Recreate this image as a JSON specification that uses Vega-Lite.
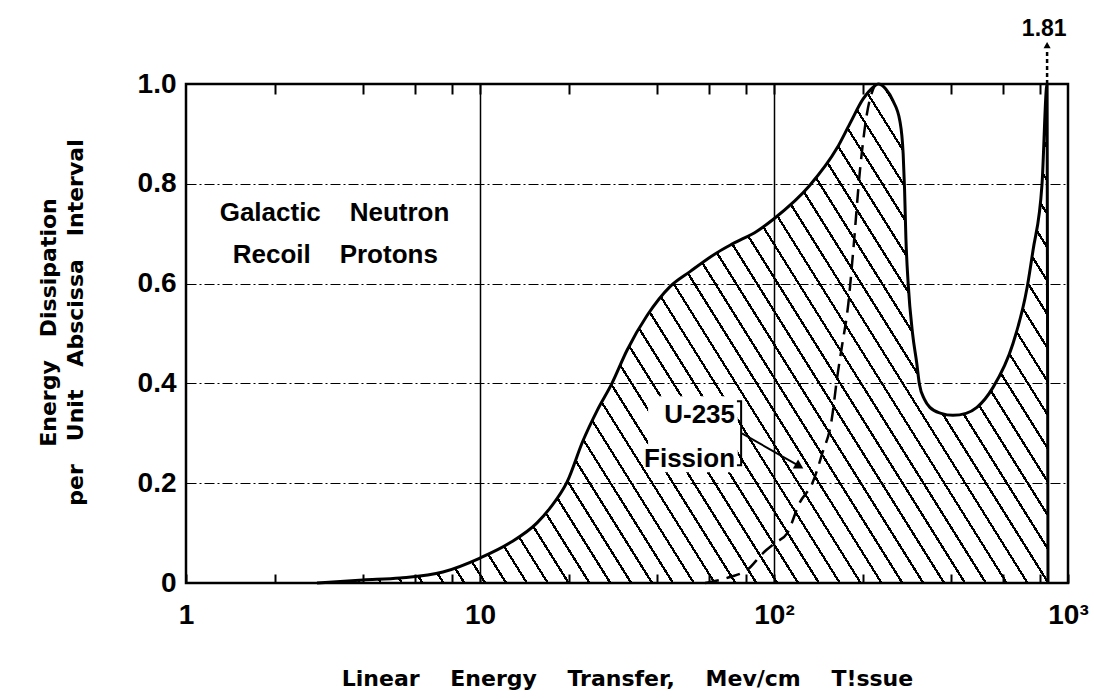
{
  "$schema": "https://vega.github.io/schema/vega-lite/v6.json",
  "width": 882,
  "height": 499,
  "autosize": {"type": "none"},
  "padding": {"left": 186, "top": 84, "right": 26, "bottom": 116},
  "background": "white",
  "config": {"view": {"stroke": "black", "strokeWidth": 2.5}},
  "datasets": {
    "recoil": [
      {"x": 2.79, "y": 0}, {"x": 4.0, "y": 0.006}, {"x": 5.35, "y": 0.01}, {"x": 7.48, "y": 0.022},
      {"x": 10, "y": 0.05}, {"x": 12.6, "y": 0.08}, {"x": 15.6, "y": 0.12}, {"x": 17.3, "y": 0.15},
      {"x": 19.8, "y": 0.203}, {"x": 22.4, "y": 0.285}, {"x": 25.0, "y": 0.345}, {"x": 28.1, "y": 0.4},
      {"x": 31.6, "y": 0.466}, {"x": 37.0, "y": 0.536}, {"x": 44.3, "y": 0.594}, {"x": 51.8, "y": 0.624},
      {"x": 64.0, "y": 0.662}, {"x": 72.5, "y": 0.68}, {"x": 87.5, "y": 0.705}, {"x": 100, "y": 0.73},
      {"x": 132, "y": 0.796}, {"x": 164, "y": 0.872}, {"x": 181, "y": 0.92}, {"x": 201, "y": 0.97},
      {"x": 217, "y": 0.993}, {"x": 226, "y": 1.0}, {"x": 240, "y": 0.99}, {"x": 254, "y": 0.966},
      {"x": 268, "y": 0.926}, {"x": 275, "y": 0.86}, {"x": 278, "y": 0.79}, {"x": 281, "y": 0.69},
      {"x": 286, "y": 0.6}, {"x": 296, "y": 0.5}, {"x": 306, "y": 0.44}, {"x": 312, "y": 0.4},
      {"x": 325, "y": 0.368}, {"x": 339, "y": 0.352}, {"x": 370, "y": 0.34}, {"x": 406, "y": 0.336},
      {"x": 450, "y": 0.34}, {"x": 490, "y": 0.352}, {"x": 556, "y": 0.392}, {"x": 650, "y": 0.48},
      {"x": 726, "y": 0.592}, {"x": 760, "y": 0.666}, {"x": 816, "y": 0.8}, {"x": 849, "y": 1.0},
      {"x": 855, "y": 0}
    ],
    "fission": [
      {"x": 58.3, "y": 0}, {"x": 70.9, "y": 0.012}, {"x": 81.0, "y": 0.026}, {"x": 91.8, "y": 0.06},
      {"x": 100.8, "y": 0.08}, {"x": 111, "y": 0.1}, {"x": 122, "y": 0.16}, {"x": 135, "y": 0.2},
      {"x": 146, "y": 0.26}, {"x": 157, "y": 0.326}, {"x": 164, "y": 0.412}, {"x": 170, "y": 0.472},
      {"x": 179, "y": 0.56}, {"x": 186, "y": 0.666}, {"x": 196, "y": 0.826}, {"x": 207, "y": 0.94},
      {"x": 221, "y": 1.0}
    ],
    "notesCenter": [
      {"x": 3.2, "y": 0.726, "label": "Galactic\u00a0\u00a0\u00a0 Neutron"},
      {"x": 3.22, "y": 0.642, "label": "Recoil\u00a0\u00a0\u00a0 Protons"}
    ],
    "notesBox": [{"x": 37.3, "x2": 75.3, "y": 0.374, "y2": 0.222}],
    "notesRight": [
      {"x": 73.7, "y": 0.32, "label": "U-235"},
      {"x": 73.7, "y": 0.232, "label": "Fission"}
    ],
    "bracket": [
      {"x": 74.8, "y": 0.364, "ord": 1}, {"x": 77.3, "y": 0.364, "ord": 2},
      {"x": 77.3, "y": 0.236, "ord": 3}, {"x": 74.8, "y": 0.236, "ord": 4}
    ],
    "arrow": [{"x": 77.8, "y": 0.3}, {"x": 122, "y": 0.234}],
    "arrowHead": [{"x": 122, "y": 0.234}],
    "spike": [{"x": 849, "y": 1.0, "y2": 1.07, "ty": 1.078, "lx": 830, "ly": 1.097, "label": "1.81"}]
  },
  "resolve": {"axis": {"x": "independent", "y": "independent"}},
  "layer": [
    {
      "data": {"name": "recoil"},
      "mark": {
        "type": "area",
        "interpolate": "monotone",
        "opacity": 1,
        "fill": {
          "gradient": "linear",
          "x1": 0, "y1": 1, "x2": 1.207, "y2": 0.485,
          "stops": [
            {"offset":0,"color":"#000"},{"offset":0.0026,"color":"#000"},{"offset":0.0026,"color":"rgba(0,0,0,0)"},{"offset":0.02,"color":"rgba(0,0,0,0)"},
            {"offset":0.02,"color":"#000"},{"offset":0.0226,"color":"#000"},{"offset":0.0226,"color":"rgba(0,0,0,0)"},{"offset":0.04,"color":"rgba(0,0,0,0)"},
            {"offset":0.04,"color":"#000"},{"offset":0.0426,"color":"#000"},{"offset":0.0426,"color":"rgba(0,0,0,0)"},{"offset":0.06,"color":"rgba(0,0,0,0)"},
            {"offset":0.06,"color":"#000"},{"offset":0.0626,"color":"#000"},{"offset":0.0626,"color":"rgba(0,0,0,0)"},{"offset":0.08,"color":"rgba(0,0,0,0)"},
            {"offset":0.08,"color":"#000"},{"offset":0.0826,"color":"#000"},{"offset":0.0826,"color":"rgba(0,0,0,0)"},{"offset":0.1,"color":"rgba(0,0,0,0)"},
            {"offset":0.1,"color":"#000"},{"offset":0.1026,"color":"#000"},{"offset":0.1026,"color":"rgba(0,0,0,0)"},{"offset":0.12,"color":"rgba(0,0,0,0)"},
            {"offset":0.12,"color":"#000"},{"offset":0.1226,"color":"#000"},{"offset":0.1226,"color":"rgba(0,0,0,0)"},{"offset":0.14,"color":"rgba(0,0,0,0)"},
            {"offset":0.14,"color":"#000"},{"offset":0.1426,"color":"#000"},{"offset":0.1426,"color":"rgba(0,0,0,0)"},{"offset":0.16,"color":"rgba(0,0,0,0)"},
            {"offset":0.16,"color":"#000"},{"offset":0.1626,"color":"#000"},{"offset":0.1626,"color":"rgba(0,0,0,0)"},{"offset":0.18,"color":"rgba(0,0,0,0)"},
            {"offset":0.18,"color":"#000"},{"offset":0.1826,"color":"#000"},{"offset":0.1826,"color":"rgba(0,0,0,0)"},{"offset":0.2,"color":"rgba(0,0,0,0)"},
            {"offset":0.2,"color":"#000"},{"offset":0.2026,"color":"#000"},{"offset":0.2026,"color":"rgba(0,0,0,0)"},{"offset":0.22,"color":"rgba(0,0,0,0)"},
            {"offset":0.22,"color":"#000"},{"offset":0.2226,"color":"#000"},{"offset":0.2226,"color":"rgba(0,0,0,0)"},{"offset":0.24,"color":"rgba(0,0,0,0)"},
            {"offset":0.24,"color":"#000"},{"offset":0.2426,"color":"#000"},{"offset":0.2426,"color":"rgba(0,0,0,0)"},{"offset":0.26,"color":"rgba(0,0,0,0)"},
            {"offset":0.26,"color":"#000"},{"offset":0.2626,"color":"#000"},{"offset":0.2626,"color":"rgba(0,0,0,0)"},{"offset":0.28,"color":"rgba(0,0,0,0)"},
            {"offset":0.28,"color":"#000"},{"offset":0.2826,"color":"#000"},{"offset":0.2826,"color":"rgba(0,0,0,0)"},{"offset":0.3,"color":"rgba(0,0,0,0)"},
            {"offset":0.3,"color":"#000"},{"offset":0.3026,"color":"#000"},{"offset":0.3026,"color":"rgba(0,0,0,0)"},{"offset":0.32,"color":"rgba(0,0,0,0)"},
            {"offset":0.32,"color":"#000"},{"offset":0.3226,"color":"#000"},{"offset":0.3226,"color":"rgba(0,0,0,0)"},{"offset":0.34,"color":"rgba(0,0,0,0)"},
            {"offset":0.34,"color":"#000"},{"offset":0.3426,"color":"#000"},{"offset":0.3426,"color":"rgba(0,0,0,0)"},{"offset":0.36,"color":"rgba(0,0,0,0)"},
            {"offset":0.36,"color":"#000"},{"offset":0.3626,"color":"#000"},{"offset":0.3626,"color":"rgba(0,0,0,0)"},{"offset":0.38,"color":"rgba(0,0,0,0)"},
            {"offset":0.38,"color":"#000"},{"offset":0.3826,"color":"#000"},{"offset":0.3826,"color":"rgba(0,0,0,0)"},{"offset":0.4,"color":"rgba(0,0,0,0)"},
            {"offset":0.4,"color":"#000"},{"offset":0.4026,"color":"#000"},{"offset":0.4026,"color":"rgba(0,0,0,0)"},{"offset":0.42,"color":"rgba(0,0,0,0)"},
            {"offset":0.42,"color":"#000"},{"offset":0.4226,"color":"#000"},{"offset":0.4226,"color":"rgba(0,0,0,0)"},{"offset":0.44,"color":"rgba(0,0,0,0)"},
            {"offset":0.44,"color":"#000"},{"offset":0.4426,"color":"#000"},{"offset":0.4426,"color":"rgba(0,0,0,0)"},{"offset":0.46,"color":"rgba(0,0,0,0)"},
            {"offset":0.46,"color":"#000"},{"offset":0.4626,"color":"#000"},{"offset":0.4626,"color":"rgba(0,0,0,0)"},{"offset":0.48,"color":"rgba(0,0,0,0)"},
            {"offset":0.48,"color":"#000"},{"offset":0.4826,"color":"#000"},{"offset":0.4826,"color":"rgba(0,0,0,0)"},{"offset":0.5,"color":"rgba(0,0,0,0)"},
            {"offset":0.5,"color":"#000"},{"offset":0.5026,"color":"#000"},{"offset":0.5026,"color":"rgba(0,0,0,0)"},{"offset":0.52,"color":"rgba(0,0,0,0)"},
            {"offset":0.52,"color":"#000"},{"offset":0.5226,"color":"#000"},{"offset":0.5226,"color":"rgba(0,0,0,0)"},{"offset":0.54,"color":"rgba(0,0,0,0)"},
            {"offset":0.54,"color":"#000"},{"offset":0.5426,"color":"#000"},{"offset":0.5426,"color":"rgba(0,0,0,0)"},{"offset":0.56,"color":"rgba(0,0,0,0)"},
            {"offset":0.56,"color":"#000"},{"offset":0.5626,"color":"#000"},{"offset":0.5626,"color":"rgba(0,0,0,0)"},{"offset":0.58,"color":"rgba(0,0,0,0)"},
            {"offset":0.58,"color":"#000"},{"offset":0.5826,"color":"#000"},{"offset":0.5826,"color":"rgba(0,0,0,0)"},{"offset":0.6,"color":"rgba(0,0,0,0)"},
            {"offset":0.6,"color":"#000"},{"offset":0.6026,"color":"#000"},{"offset":0.6026,"color":"rgba(0,0,0,0)"},{"offset":0.62,"color":"rgba(0,0,0,0)"},
            {"offset":0.62,"color":"#000"},{"offset":0.6226,"color":"#000"},{"offset":0.6226,"color":"rgba(0,0,0,0)"},{"offset":0.64,"color":"rgba(0,0,0,0)"},
            {"offset":0.64,"color":"#000"},{"offset":0.6426,"color":"#000"},{"offset":0.6426,"color":"rgba(0,0,0,0)"},{"offset":0.66,"color":"rgba(0,0,0,0)"},
            {"offset":0.66,"color":"#000"},{"offset":0.6626,"color":"#000"},{"offset":0.6626,"color":"rgba(0,0,0,0)"},{"offset":0.68,"color":"rgba(0,0,0,0)"},
            {"offset":0.68,"color":"#000"},{"offset":0.6826,"color":"#000"},{"offset":0.6826,"color":"rgba(0,0,0,0)"},{"offset":0.7,"color":"rgba(0,0,0,0)"},
            {"offset":0.7,"color":"#000"},{"offset":0.7026,"color":"#000"},{"offset":0.7026,"color":"rgba(0,0,0,0)"},{"offset":0.72,"color":"rgba(0,0,0,0)"},
            {"offset":0.72,"color":"#000"},{"offset":0.7226,"color":"#000"},{"offset":0.7226,"color":"rgba(0,0,0,0)"},{"offset":0.74,"color":"rgba(0,0,0,0)"},
            {"offset":0.74,"color":"#000"},{"offset":0.7426,"color":"#000"},{"offset":0.7426,"color":"rgba(0,0,0,0)"},{"offset":0.76,"color":"rgba(0,0,0,0)"},
            {"offset":0.76,"color":"#000"},{"offset":0.7626,"color":"#000"},{"offset":0.7626,"color":"rgba(0,0,0,0)"},{"offset":0.78,"color":"rgba(0,0,0,0)"},
            {"offset":0.78,"color":"#000"},{"offset":0.7826,"color":"#000"},{"offset":0.7826,"color":"rgba(0,0,0,0)"},{"offset":0.8,"color":"rgba(0,0,0,0)"},
            {"offset":0.8,"color":"#000"},{"offset":0.8026,"color":"#000"},{"offset":0.8026,"color":"rgba(0,0,0,0)"},{"offset":0.82,"color":"rgba(0,0,0,0)"},
            {"offset":0.82,"color":"#000"},{"offset":0.8226,"color":"#000"},{"offset":0.8226,"color":"rgba(0,0,0,0)"},{"offset":0.84,"color":"rgba(0,0,0,0)"},
            {"offset":0.84,"color":"#000"},{"offset":0.8426,"color":"#000"},{"offset":0.8426,"color":"rgba(0,0,0,0)"},{"offset":0.86,"color":"rgba(0,0,0,0)"},
            {"offset":0.86,"color":"#000"},{"offset":0.8626,"color":"#000"},{"offset":0.8626,"color":"rgba(0,0,0,0)"},{"offset":0.88,"color":"rgba(0,0,0,0)"},
            {"offset":0.88,"color":"#000"},{"offset":0.8826,"color":"#000"},{"offset":0.8826,"color":"rgba(0,0,0,0)"},{"offset":0.9,"color":"rgba(0,0,0,0)"},
            {"offset":0.9,"color":"#000"},{"offset":0.9026,"color":"#000"},{"offset":0.9026,"color":"rgba(0,0,0,0)"},{"offset":0.92,"color":"rgba(0,0,0,0)"},
            {"offset":0.92,"color":"#000"},{"offset":0.9226,"color":"#000"},{"offset":0.9226,"color":"rgba(0,0,0,0)"},{"offset":0.94,"color":"rgba(0,0,0,0)"},
            {"offset":0.94,"color":"#000"},{"offset":0.9426,"color":"#000"},{"offset":0.9426,"color":"rgba(0,0,0,0)"},{"offset":0.96,"color":"rgba(0,0,0,0)"},
            {"offset":0.96,"color":"#000"},{"offset":0.9626,"color":"#000"},{"offset":0.9626,"color":"rgba(0,0,0,0)"},{"offset":0.98,"color":"rgba(0,0,0,0)"},
            {"offset":0.98,"color":"#000"},{"offset":0.9826,"color":"#000"},{"offset":0.9826,"color":"rgba(0,0,0,0)"},{"offset":1,"color":"rgba(0,0,0,0)"}
          ]
        }
      },
      "encoding": {
        "x": {
          "field": "x", "type": "quantitative",
          "scale": {"type": "log", "domain": [1, 1000], "nice": false},
          "axis": {
            "orient": "bottom",
            "values": [1, 2, 4, 6, 8, 10, 20, 40, 60, 80, 100, 200, 400, 600, 800, 1000],
            "labelExpr": "datum.value == 1 ? '1' : datum.value == 10 ? '10' : datum.value == 100 ? '10²' : datum.value == 1000 ? '10³' : ''",
            "labelFont": "Liberation Sans",
            "labelFontSize": 28, "labelFontWeight": "bold", "labelColor": "black",
            "labelPadding": 27, "labelFlush": false, "labelOverlap": false, "labelBound": false,
            "tickSize": -9, "tickWidth": 2, "tickColor": "black",
            "domain": false, "grid": false,
            "title": "Linear\u00a0\u00a0\u00a0 Energy\u00a0\u00a0\u00a0 Transfer,\u00a0\u00a0\u00a0 Mev/cm\u00a0\u00a0\u00a0 T!ssue",
            "titleFont": "DejaVu Sans", "titleFontSize": 22, "titleFontWeight": "bold", "titleColor": "black",
            "titleX": 441, "titleY": 102, "titleAlign": "center", "titleBaseline": "alphabetic"
          }
        },
        "y": {
          "field": "y", "type": "quantitative",
          "scale": {"domain": [0, 1], "nice": false},
          "axis": {
            "orient": "left",
            "values": [0, 0.2, 0.4, 0.6, 0.8, 1],
            "labelExpr": "datum.value == 0 ? '0' : format(datum.value, '.1f')",
            "labelFont": "Liberation Sans",
            "labelFontSize": 28, "labelFontWeight": "bold", "labelColor": "black",
            "labelPadding": 10, "labelBaseline": "middle", "labelFlush": false, "labelOverlap": false,
            "ticks": false, "domain": false,
            "grid": true, "gridColor": "black", "gridWidth": 1, "gridDash": [10, 3, 2, 3],
            "title": ["Energy\u00a0\u00a0 Dissipation", "per\u00a0\u00a0 Unit\u00a0\u00a0 Abscissa\u00a0\u00a0 Interval"],
            "titleFont": "DejaVu Sans", "titleFontSize": 22, "titleFontWeight": "bold", "titleColor": "black",
            "titleX": -131, "titleY": 238, "titleAngle": 270, "titleAlign": "center", "titleBaseline": "alphabetic",
            "titleLineHeight": 27
          }
        }
      }
    },
    {
      "data": {"name": "recoil"},
      "mark": {"type": "line", "interpolate": "monotone", "color": "black", "strokeWidth": 3},
      "encoding": {
        "x": {
          "field": "x", "type": "quantitative",
          "scale": {"type": "log", "domain": [1, 1000], "nice": false},
          "axis": {
            "orient": "top",
            "values": [2, 4, 6, 8, 10, 20, 40, 60, 80, 100, 200, 400, 600, 800],
            "labels": false, "domain": false,
            "tickSize": -10, "tickWidth": 2, "tickColor": "black",
            "grid": true, "gridColor": "black", "gridWidth": 1.5,
            "gridOpacity": {"condition": {"test": "datum.value == 10 || datum.value == 100", "value": 1}, "value": 0},
            "title": null
          }
        },
        "y": {"field": "y", "type": "quantitative", "scale": {"domain": [0, 1], "nice": false}, "axis": null}
      }
    },
    {
      "data": {"name": "fission"},
      "mark": {"type": "line", "interpolate": "monotone", "color": "black", "strokeWidth": 2.5, "strokeDash": [14, 8]},
      "encoding": {
        "x": {"field": "x", "type": "quantitative", "scale": {"type": "log", "domain": [1, 1000], "nice": false}, "axis": null},
        "y": {"field": "y", "type": "quantitative", "scale": {"domain": [0, 1], "nice": false}, "axis": null}
      }
    },
    {
      "data": {"name": "notesBox"},
      "mark": {"type": "rect", "color": "white", "opacity": 1},
      "encoding": {
        "x": {"field": "x", "type": "quantitative", "scale": {"type": "log", "domain": [1, 1000], "nice": false}, "axis": null},
        "x2": {"field": "x2"},
        "y": {"field": "y", "type": "quantitative", "scale": {"domain": [0, 1], "nice": false}, "axis": null},
        "y2": {"field": "y2"}
      }
    },
    {
      "data": {"name": "notesCenter"},
      "mark": {"type": "text", "align": "center", "baseline": "alphabetic", "font": "Liberation Sans", "fontSize": 26, "fontWeight": "bold", "color": "black"},
      "encoding": {
        "x": {"field": "x", "type": "quantitative", "scale": {"type": "log", "domain": [1, 1000], "nice": false}, "axis": null},
        "y": {"field": "y", "type": "quantitative", "scale": {"domain": [0, 1], "nice": false}, "axis": null},
        "text": {"field": "label"}
      }
    },
    {
      "data": {"name": "notesRight"},
      "mark": {"type": "text", "align": "right", "baseline": "alphabetic", "font": "Liberation Sans", "fontSize": 26, "fontWeight": "bold", "color": "black"},
      "encoding": {
        "x": {"field": "x", "type": "quantitative", "scale": {"type": "log", "domain": [1, 1000], "nice": false}, "axis": null},
        "y": {"field": "y", "type": "quantitative", "scale": {"domain": [0, 1], "nice": false}, "axis": null},
        "text": {"field": "label"}
      }
    },
    {
      "data": {"name": "bracket"},
      "mark": {"type": "line", "color": "black", "strokeWidth": 2},
      "encoding": {
        "x": {"field": "x", "type": "quantitative", "scale": {"type": "log", "domain": [1, 1000], "nice": false}, "axis": null},
        "y": {"field": "y", "type": "quantitative", "scale": {"domain": [0, 1], "nice": false}, "axis": null},
        "order": {"field": "ord", "type": "quantitative"}
      }
    },
    {
      "data": {"name": "arrow"},
      "mark": {"type": "line", "color": "black", "strokeWidth": 2},
      "encoding": {
        "x": {"field": "x", "type": "quantitative", "scale": {"type": "log", "domain": [1, 1000], "nice": false}, "axis": null},
        "y": {"field": "y", "type": "quantitative", "scale": {"domain": [0, 1], "nice": false}, "axis": null}
      }
    },
    {
      "data": {"name": "arrowHead"},
      "mark": {"type": "point", "shape": "triangle-right", "angle": 30, "filled": true, "color": "black", "size": 110, "opacity": 1},
      "encoding": {
        "x": {"field": "x", "type": "quantitative", "scale": {"type": "log", "domain": [1, 1000], "nice": false}, "axis": null},
        "y": {"field": "y", "type": "quantitative", "scale": {"domain": [0, 1], "nice": false}, "axis": null}
      }
    },
    {
      "data": {"name": "spike"},
      "mark": {"type": "rule", "color": "black", "strokeWidth": 2.5, "strokeDash": [4, 3]},
      "encoding": {
        "x": {"field": "x", "type": "quantitative", "scale": {"type": "log", "domain": [1, 1000], "nice": false}, "axis": null},
        "y": {"field": "y", "type": "quantitative", "scale": {"domain": [0, 1], "nice": false}, "axis": null},
        "y2": {"field": "y2"}
      }
    },
    {
      "data": {"name": "spike"},
      "mark": {"type": "point", "shape": "triangle-up", "filled": true, "color": "black", "size": 50, "opacity": 1},
      "encoding": {
        "x": {"field": "x", "type": "quantitative", "scale": {"type": "log", "domain": [1, 1000], "nice": false}, "axis": null},
        "y": {"field": "ty", "type": "quantitative", "scale": {"domain": [0, 1], "nice": false}, "axis": null}
      }
    },
    {
      "data": {"name": "spike"},
      "mark": {"type": "text", "align": "center", "baseline": "alphabetic", "font": "Liberation Sans", "fontSize": 23, "fontWeight": "bold", "color": "black"},
      "encoding": {
        "x": {"field": "lx", "type": "quantitative", "scale": {"type": "log", "domain": [1, 1000], "nice": false}, "axis": null},
        "y": {"field": "ly", "type": "quantitative", "scale": {"domain": [0, 1], "nice": false}, "axis": null},
        "text": {"field": "label"}
      }
    }
  ]
}
